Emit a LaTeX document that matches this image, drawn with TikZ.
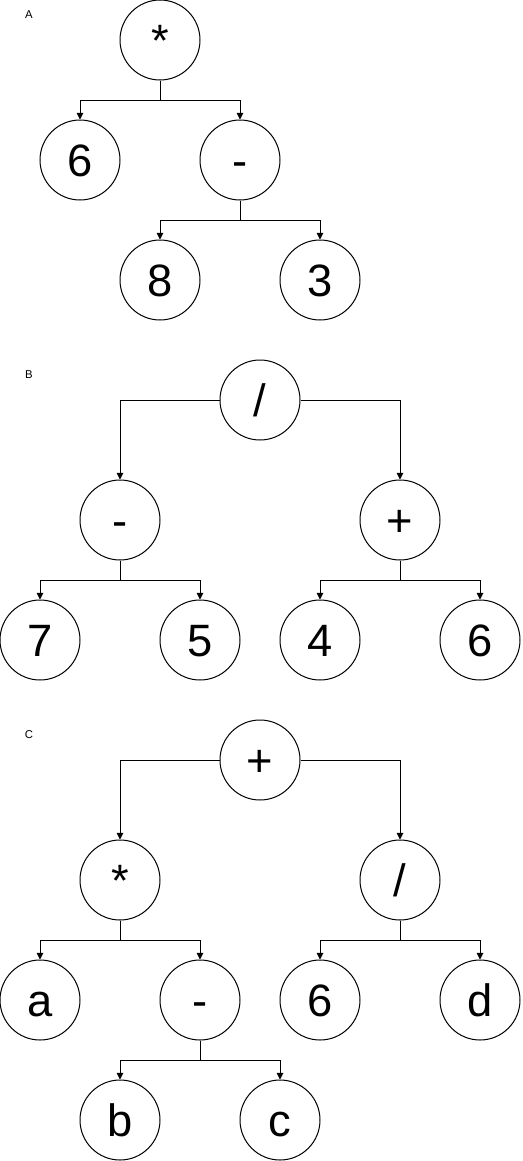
\documentclass[tikz,border=0pt]{standalone}
\usepackage{fontspec}
\setmainfont{Liberation Sans}
\usetikzlibrary{arrows.meta}
\tikzset{
    opnode/.style={circle,draw,line width=0.75pt,minimum size=60pt,inner sep=0pt,text height=24.5pt,text depth=0pt,font=\fontsize{34}{34}\selectfont},
    treelabel/.style={font=\fontsize{8.5}{8.5}\selectfont},
    edge/.style={line width=0.75pt,-{Triangle[length=5pt,width=5pt]}}
}
\begin{document}
\begin{tikzpicture}[x=0.75pt,y=-0.75pt]
            \useasboundingbox (0,0) rectangle (522,1161);
            % A
            \node[treelabel] (la) at (29,15) {A};
            \node[opnode] (astar) at (160,40) {*};
            \node[opnode] (asix) at (80,160) {6};
            \node[opnode] (aminus) at (240,160) {-};
            \node[opnode] (aeight) at (160,280) {8};
            \node[opnode] (athree) at (320,280) {3};
            \draw[edge] (astar.south) -- ++(0,20) -| (asix.north);
            \draw[edge] (astar.south) -- ++(0,20) -| (aminus.north);
            \draw[edge] (aminus.south) -- ++(0,20) -| (aeight.north);
            \draw[edge] (aminus.south) -- ++(0,20) -| (athree.north);
            % B
            \node[treelabel] (lb) at (29,375) {B};
            \node[opnode] (bdiv) at (260,400) {/};
            \node[opnode] (bminus) at (120,520) {-};
            \node[opnode] (bplus) at (400,520) {+};
            \node[opnode] (bseven) at (40,640) {7};
            \node[opnode] (bfive) at (200,640) {5};
            \node[opnode] (bfour) at (320,640) {4};
            \node[opnode] (bsix) at (480,640) {6};
            \draw[edge] (bdiv.west) -| (bminus.north);
            \draw[edge] (bdiv.east) -| (bplus.north);
            \draw[edge] (bminus.south) -- ++(0,20) -| (bseven.north);
            \draw[edge] (bminus.south) -- ++(0,20) -| (bfive.north);
            \draw[edge] (bplus.south) -- ++(0,20) -| (bfour.north);
            \draw[edge] (bplus.south) -- ++(0,20) -| (bsix.north);
            % C
            \node[treelabel] (lc) at (29,735) {C};
            \node[opnode] (cplus) at (260,760) {+};
            \node[opnode] (cstar) at (120,880) {*};
            \node[opnode] (cdiv) at (400,880) {/};
            \node[opnode] (ca) at (40,1000) {a};
            \node[opnode] (cminus) at (200,1000) {-};
            \node[opnode] (csix) at (320,1000) {6};
            \node[opnode] (cd) at (480,1000) {d};
            \node[opnode] (cb) at (120,1120) {b};
            \node[opnode] (cc) at (280,1120) {c};
            \draw[edge] (cplus.west) -| (cstar.north);
            \draw[edge] (cplus.east) -| (cdiv.north);
            \draw[edge] (cstar.south) -- ++(0,20) -| (ca.north);
            \draw[edge] (cstar.south) -- ++(0,20) -| (cminus.north);
            \draw[edge] (cdiv.south) -- ++(0,20) -| (csix.north);
            \draw[edge] (cdiv.south) -- ++(0,20) -| (cd.north);
            \draw[edge] (cminus.south) -- ++(0,20) -| (cb.north);
            \draw[edge] (cminus.south) -- ++(0,20) -| (cc.north);
\end{tikzpicture}
\end{document}
